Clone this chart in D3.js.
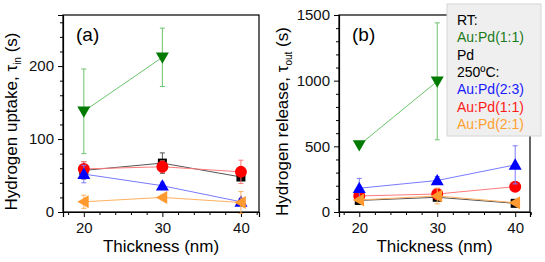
<!DOCTYPE html>
<html>
<head>
<meta charset="utf-8">
<script src="https://cdn.jsdelivr.net/npm/d3@7"></script>
<style>
  body { margin: 0; background: #fff; }
  svg { font-family: "Liberation Sans", Arial, sans-serif; }
</style>
</head>
<body>
<div id="chart-area"></div>
<script>
// thickness values shared by both panels
var thickness = [20, 30, 40];
var xTicks = [20, 30, 40];

// (a) hydrogen uptake tau_in (s), value and error half-width
var upRT11 = [138, 212, null],   upRT11Err = [58, 40, null];
var upPd = [57, 67, 48],         upPdErr = [12, 14, 5];
var up23 = [52, 36, 14],         up23Err = [12, 5, 4];
var up11 = [59, 62, 55],         up11Err = [10, 8, 16];
var up21 = [14, 20, 13],         up21Err = [9, 3, 15];
var upTicks = [0, 100, 200];

// (b) hydrogen release tau_out (s)
var reRT11 = [510, 995, null],   reRT11Err = [15, 445, null];
var rePd = [88, 112, 66],        rePdErr = [15, 15, 8];
var re23 = [181, 240, 359],      re23Err = [75, 30, 145];
var re11 = [122, 137, 193],      re11Err = [15, 40, 20];
var re21 = [92, 122, 71],        re21Err = [10, 60, 10];
var reTicks = [0, 500, 1000, 1500];

var legendLabels = ["RT:", "Au:Pd(1:1)", "Pd", "250\u00baC:", "Au:Pd(2:3)", "Au:Pd(1:1)", "Au:Pd(2:1)"];
var legendColors = ["#000", "#1a7a1a", "#000", "#000", "#1a1aff", "#ff1a1a", "#ffa030"];

var width = 545, height = 262;
var svg = d3.select("#chart-area").append("svg")
    .attr("width", width)
    .attr("height", height);

// marker styles
var styles = {
  rt:  { fill: "#007a00", line: "#6cc46c", shape: "down" },
  pd:  { fill: "#000000", line: "#555555", shape: "square" },
  b23: { fill: "#0000ff", line: "#7a7aff", shape: "up" },
  r11: { fill: "#ff0000", line: "#ff7a7a", shape: "circle" },
  o21: { fill: "#ff9a30", line: "#ffb060", shape: "left" }
};

function marker(g, shape, x, y, fill) {
  var s = 6.5;
  if (shape == "circle") {
    g.append("circle").attr("cx", x).attr("cy", y).attr("r", 6).attr("fill", fill);
  } else if (shape == "square") {
    g.append("rect").attr("x", x - 4.5).attr("y", y - 4.5).attr("width", 9).attr("height", 9).attr("fill", fill);
  } else {
    var pts;
    if (shape == "up") pts = [[x, y - s], [x + s, y + s * 0.75], [x - s, y + s * 0.75]];
    else if (shape == "down") pts = [[x, y + s], [x + s, y - s * 0.75], [x - s, y - s * 0.75]];
    else pts = [[x - s, y], [x + s * 0.75, y - s], [x + s * 0.75, y + s]];
    g.append("polygon").attr("points", pts.map(function(p) { return p.join(","); }).join(" ")).attr("fill", fill);
  }
}

function panel(opt) {
  var x = d3.scaleLinear().domain(opt.xDomain).range([opt.left, opt.right]);
  var y = d3.scaleLinear().domain(opt.yDomain).range([opt.bottom, opt.top]);
  var g = svg.append("g");

  // frame
  g.append("rect")
    .attr("x", opt.left).attr("y", opt.top)
    .attr("width", opt.right - opt.left).attr("height", opt.bottom - opt.top)
    .attr("fill", "none").attr("stroke", "#000").attr("stroke-width", 1.2);

  // bottom axis, major + minor
  var xAxis = g.append("g").attr("transform", "translate(0," + opt.bottom + ")")
    .call(d3.axisBottom(x).tickValues(xTicks).tickSize(5).tickPadding(5).tickFormat(d3.format("d")));
  g.append("g").attr("transform", "translate(0," + opt.bottom + ")")
    .call(d3.axisBottom(x).tickValues(d3.range(18, 43, 2).filter(function(v) { return v % 10 != 0; })).tickSize(3).tickFormat(""))
    .select(".domain").remove();

  var yAxis = g.append("g").attr("transform", "translate(" + opt.left + ",0)")
    .call(d3.axisLeft(y).tickValues(opt.yTicks).tickSize(5).tickPadding(4).tickFormat(d3.format("d")));
  g.append("g").attr("transform", "translate(" + opt.left + ",0)")
    .call(d3.axisLeft(y).tickValues(opt.yMinor).tickSize(3).tickFormat(""))
    .select(".domain").remove();

  g.selectAll(".tick text").attr("font-size", 15).attr("fill", "#111");
  g.selectAll(".domain").attr("stroke-width", 1.2);

  // axis titles
  g.append("text")
    .attr("x", (opt.left + opt.right) / 2).attr("y", 252)
    .attr("text-anchor", "middle").attr("font-size", 17)
    .text("Thickness (nm)");
  var yt = g.append("text")
    .attr("transform", "translate(" + opt.titleX + "," + ((opt.top + opt.bottom) / 2 + 8) + ") rotate(-90)")
    .attr("text-anchor", "middle").attr("font-size", 17);
  yt.append("tspan").text(opt.yTitle + ", \u03c4");
  yt.append("tspan").attr("dy", 4).attr("font-size", 10).text(opt.sub);
  yt.append("tspan").attr("dy", -4).text(" (s)");

  g.append("text").attr("x", opt.left + 13).attr("y", 41).attr("font-size", 19).text(opt.label);

  // series
  opt.series.forEach(function(s) {
    var st = styles[s.key];
    var pts = thickness.map(function(t, i) { return { t: t, v: s.values[i], e: s.err[i] }; })
      .filter(function(d) { return d.v != null; });
    g.append("path").datum(pts)
      .attr("fill", "none").attr("stroke", st.line).attr("stroke-width", 1)
      .attr("d", d3.line().x(function(d) { return x(d.t); }).y(function(d) { return y(d.v); }));
    pts.forEach(function(d) {
      var cx = x(d.t);
      g.append("line").attr("x1", cx).attr("x2", cx).attr("y1", y(d.v - d.e)).attr("y2", y(d.v + d.e))
        .attr("stroke", st.line).attr("stroke-width", 1);
      [d.v - d.e, d.v + d.e].forEach(function(v) {
        g.append("line").attr("x1", cx - 2.5).attr("x2", cx + 2.5).attr("y1", y(v)).attr("y2", y(v))
          .attr("stroke", st.line).attr("stroke-width", 1);
      });
    });
    pts.forEach(function(d) { marker(g, st.shape, x(d.t), y(d.v), st.fill); });
  });
}

panel({
  left: 63, right: 259, top: 15, bottom: 212,
  xDomain: [17.35, 42.3], yDomain: [0, 270],
  yTicks: upTicks, yMinor: d3.range(20, 270, 20).filter(function(v) { return v % 100 != 0; }),
  yTitle: "Hydrogen uptake", sub: "in", titleX: 17, label: "(a)",
  series: [
    { key: "rt", values: upRT11, err: upRT11Err },
    { key: "pd", values: upPd, err: upPdErr },
    { key: "r11", values: up11, err: up11Err },
    { key: "b23", values: up23, err: up23Err },
    { key: "o21", values: up21, err: up21Err }
  ]
});

panel({
  left: 339, right: 530, top: 15, bottom: 212,
  xDomain: [17.4, 41.9], yDomain: [0, 1500],
  yTicks: reTicks, yMinor: d3.range(100, 1500, 100).filter(function(v) { return v % 500 != 0; }),
  yTitle: "Hydrogen release", sub: "out", titleX: 288, label: "(b)",
  series: [
    { key: "rt", values: reRT11, err: reRT11Err },
    { key: "pd", values: rePd, err: rePdErr },
    { key: "r11", values: re11, err: re11Err },
    { key: "b23", values: re23, err: re23Err },
    { key: "o21", values: re21, err: re21Err }
  ]
});

// legend box
var lg = svg.append("g");
lg.append("rect").attr("x", 447).attr("y", 4).attr("width", 94).attr("height", 132)
  .attr("fill", "#efefef").attr("stroke", "#d6d6d6");
lg.selectAll("text").data(legendLabels).enter().append("text")
  .attr("x", 457).attr("y", function(d, i) { return 25 + i * 17.3; })
  .attr("font-size", 14)
  .attr("fill", function(d, i) { return legendColors[i]; })
  .text(function(d) { return d; });
</script>
</body>
</html>
